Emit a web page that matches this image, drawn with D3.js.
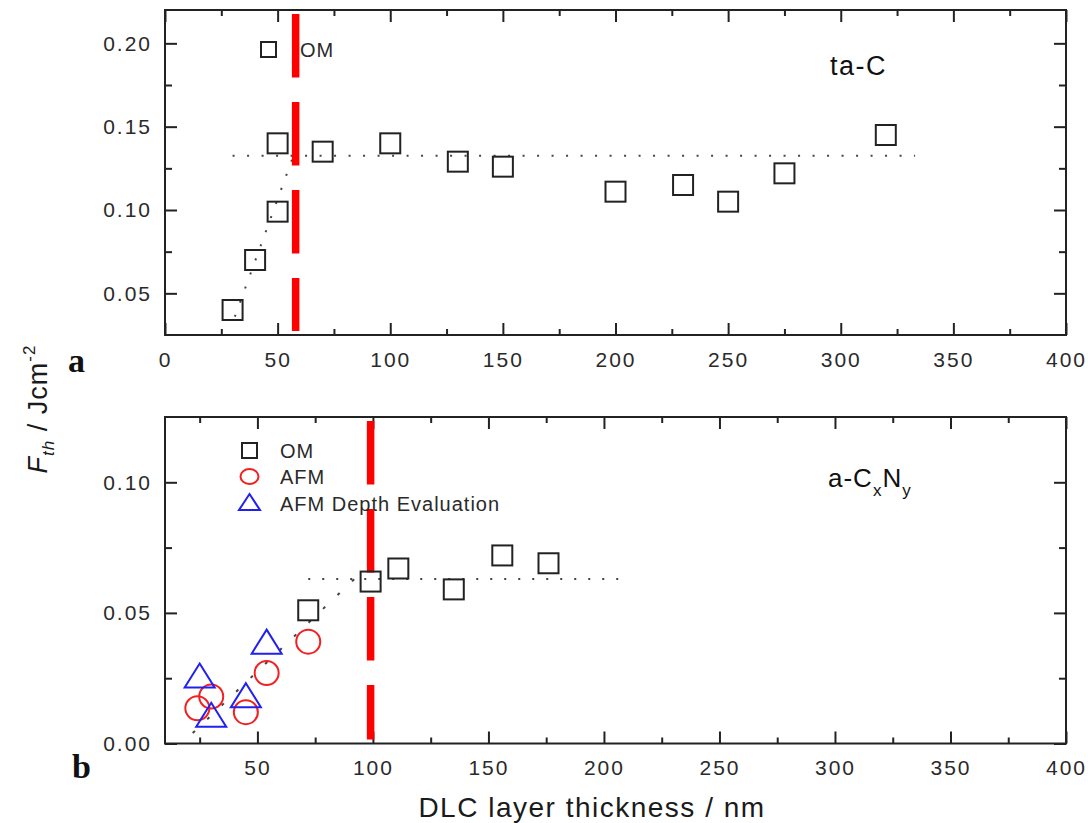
<!DOCTYPE html>
<html>
<head>
<meta charset="utf-8">
<script src="https://cdn.jsdelivr.net/npm/d3@7"></script>
<style>
  html, body { margin: 0; padding: 0; background: #fff; }
  svg { display: block; font-family: "Liberation Sans", Arial, sans-serif; }
</style>
</head>
<body>
<svg id="chart" width="1088" height="823"></svg>
<script>
// ---- Panel a: ta-C (optical microscopy) ----
const taC_thickness = [30, 40, 50, 50, 70, 100, 130, 150, 200, 230, 250, 275, 320];
const taC_fth       = [0.040, 0.070, 0.099, 0.140, 0.135, 0.140, 0.129, 0.126, 0.111, 0.115, 0.105, 0.122, 0.145];
const taC_plateau   = 0.1325;           // horizontal guide level
const taC_plateauX  = [30, 333];         // extent of the horizontal guide
const taC_rise      = [[31, 0.036], [57, 0.1325]];  // rising guide
const taC_critical  = 58;                // red dashed marker (nm)

// ---- Panel b: a-CxNy ----
const cn_om_thickness  = [72, 99, 111, 135, 156, 176];
const cn_om_fth        = [0.051, 0.062, 0.067, 0.059, 0.072, 0.069];
const cn_afm_thickness = [24, 30, 45, 54, 72];
const cn_afm_fth       = [0.0135, 0.018, 0.012, 0.027, 0.039];
const cn_dep_thickness = [25, 30, 45, 54];
const cn_dep_fth       = [0.026, 0.011, 0.0185, 0.039];
const cn_plateau   = 0.063;
const cn_plateauX  = [72, 210];
const cn_rise      = [[22, 0.004], [92, 0.063]];
const cn_critical  = 99;

// ---- Axis ticks ----
const xTicksA = [0, 50, 100, 150, 200, 250, 300, 350, 400];
const xTicksB = [50, 100, 150, 200, 250, 300, 350, 400];
const xMinor  = [25, 75, 125, 175, 225, 275, 325, 375];
const yTicksA = [0.05, 0.10, 0.15, 0.20];
const yMinorA = [0.075, 0.125, 0.175];
const yTicksB = [0.00, 0.05, 0.10];
const yMinorB = [0.025, 0.075];

const svg = d3.select("#chart");
const INK = "#222";
const TXT = "#2a2a2a";
const RED = "#ff0000";
const CRED = "#f22020";
const BLUE = "#2020f0";

const left = 165, right = 1066;

const xA = d3.scaleLinear().domain([0, 400]).range([left, right]);
const yA = d3.scaleLinear().domain([0.025, 0.22]).range([335, 10]);
const xB = d3.scaleLinear().domain([10, 400]).range([left, right]);
const yB = d3.scaleLinear().domain([0, 0.125]).range([743.5, 417]);

function drawAxes(x, y, xt, xm, yt, ym, fmtX) {
  const g = svg.append("g");
  const [y0, y1] = y.range();
  const [x0, x1] = x.range();
  const style = sel => {
    sel.select(".domain").remove();
    sel.selectAll("line").attr("stroke", INK).attr("stroke-width", 2);
    sel.selectAll("text").attr("fill", TXT).attr("font-size", 21).attr("letter-spacing", 2)
      .attr("font-family", "'Liberation Sans', Arial, sans-serif");
  };
  // bottom
  g.append("g").attr("transform", `translate(0,${y0})`)
    .call(d3.axisBottom(x).tickValues(xt).tickSizeInner(-12).tickSizeOuter(0).tickPadding(17).tickFormat(fmtX))
    .call(style);
  g.append("g").attr("transform", `translate(0,${y0})`)
    .call(d3.axisBottom(x).tickValues(xm).tickSizeInner(-6).tickSizeOuter(0).tickFormat(""))
    .call(style);
  // top
  g.append("g").attr("transform", `translate(0,${y1})`)
    .call(d3.axisTop(x).tickValues(xt).tickSizeInner(-12).tickSizeOuter(0).tickFormat(""))
    .call(style);
  g.append("g").attr("transform", `translate(0,${y1})`)
    .call(d3.axisTop(x).tickValues(xm).tickSizeInner(-6).tickSizeOuter(0).tickFormat(""))
    .call(style);
  // left
  g.append("g").attr("transform", `translate(${x0},0)`)
    .call(d3.axisLeft(y).tickValues(yt).tickSizeInner(-12).tickSizeOuter(0).tickPadding(13).tickFormat(d3.format(".2f")))
    .call(style);
  g.append("g").attr("transform", `translate(${x0},0)`)
    .call(d3.axisLeft(y).tickValues(ym).tickSizeInner(-7).tickSizeOuter(0).tickFormat(""))
    .call(style);
  // right
  g.append("g").attr("transform", `translate(${x1},0)`)
    .call(d3.axisRight(y).tickValues(yt).tickSizeInner(-12).tickSizeOuter(0).tickFormat(""))
    .call(style);
  g.append("g").attr("transform", `translate(${x1},0)`)
    .call(d3.axisRight(y).tickValues(ym).tickSizeInner(-7).tickSizeOuter(0).tickFormat(""))
    .call(style);
  // frame
  g.append("rect").attr("x", x0).attr("y", y1).attr("width", x1 - x0).attr("height", y0 - y1)
    .attr("fill", "none").attr("stroke", INK).attr("stroke-width", 2);
}

function guide(x, y, pts, dash) {
  svg.append("path")
    .attr("d", d3.line().x(d => x(d[0])).y(d => y(d[1]))(pts))
    .attr("fill", "none").attr("stroke", "#444").attr("stroke-width", 2)
    .attr("stroke-dasharray", dash);
}

function critical(x, y, v) {
  const [y0, y1] = y.range();
  svg.append("line")
    .attr("x1", x(v)).attr("x2", x(v)).attr("y1", y1 + 4).attr("y2", y0 - 4)
    .attr("stroke", RED).attr("stroke-width", 7.5).attr("stroke-dasharray", "63.5,24.5");
}

function squares(x, y, xs, ys, size) {
  svg.append("g").selectAll("rect").data(d3.zip(xs, ys)).join("rect")
    .attr("x", d => x(d[0]) - size / 2).attr("y", d => y(d[1]) - size / 2)
    .attr("width", size).attr("height", size)
    .attr("fill", "none").attr("stroke", INK).attr("stroke-width", 2);
}
function circles(x, y, xs, ys, r) {
  svg.append("g").selectAll("circle").data(d3.zip(xs, ys)).join("circle")
    .attr("cx", d => x(d[0])).attr("cy", d => y(d[1])).attr("r", r)
    .attr("fill", "none").attr("stroke", CRED).attr("stroke-width", 2);
}
function triPath(w, h) {
  return `M0,${-h / 2}L${w / 2},${h / 2}L${-w / 2},${h / 2}Z`;
}
function triangles(x, y, xs, ys, w, h) {
  svg.append("g").selectAll("path").data(d3.zip(xs, ys)).join("path")
    .attr("transform", d => `translate(${x(d[0])},${y(d[1])})`)
    .attr("d", triPath(w, h))
    .attr("fill", "none").attr("stroke", BLUE).attr("stroke-width", 2).attr("stroke-linejoin", "miter");
}

// ===== Panel a =====
drawAxes(xA, yA, xTicksA, xMinor, yTicksA, yMinorA, d3.format("d"));
guide(xA, yA, [[taC_plateauX[0], taC_plateau], [taC_plateauX[1], taC_plateau]], "2,12.5");
guide(xA, yA, taC_rise, "2,13");
critical(xA, yA, taC_critical);
squares(xA, yA, taC_thickness, taC_fth, 20);

// legend (panel a)
svg.append("rect").attr("x", 261).attr("y", 42).attr("width", 15).attr("height", 15)
  .attr("fill", "none").attr("stroke", INK).attr("stroke-width", 2);
svg.append("text").attr("x", 300).attr("y", 57).attr("font-size", 20).attr("letter-spacing", 1)
  .attr("fill", TXT).text("OM");

svg.append("text").attr("x", 830).attr("y", 75).attr("font-size", 27).attr("letter-spacing", 1.5)
  .attr("fill", "#111").text("ta-C");

svg.append("text").attr("x", 68).attr("y", 372).attr("font-size", 34).attr("font-weight", "bold")
  .attr("font-family", "'Liberation Serif', 'Times New Roman', serif").attr("fill", "#111").text("a");

// ===== Panel b =====
drawAxes(xB, yB, xTicksB, xMinor, yTicksB, yMinorB, d3.format("d"));
guide(xB, yB, [[cn_plateauX[0], cn_plateau], [cn_plateauX[1], cn_plateau]], "2,12");
guide(xB, yB, cn_rise, "3,17");
critical(xB, yB, cn_critical);
circles(xB, yB, cn_afm_thickness, cn_afm_fth, 12);
triangles(xB, yB, cn_dep_thickness, cn_dep_fth, 30, 24);
squares(xB, yB, cn_om_thickness, cn_om_fth, 20);

// legend (panel b)
const lg = svg.append("g");
lg.append("rect").attr("x", 242).attr("y", 443).attr("width", 15).attr("height", 15)
  .attr("fill", "none").attr("stroke", INK).attr("stroke-width", 2);
lg.append("ellipse").attr("cx", 249.5).attr("cy", 476.5).attr("rx", 9).attr("ry", 7.5)
  .attr("fill", "none").attr("stroke", CRED).attr("stroke-width", 2);
lg.append("path").attr("transform", "translate(249.5,502)").attr("d", triPath(21, 16))
  .attr("fill", "none").attr("stroke", BLUE).attr("stroke-width", 2);
const legendLabels = ["OM", "AFM", "AFM Depth Evaluation"];
lg.selectAll("text.lbl").data(legendLabels).join("text")
  .attr("x", 280).attr("y", (d, i) => 457.5 + i * 26.7)
  .attr("font-size", 20).attr("letter-spacing", 1).attr("fill", TXT).text(d => d);

const cxny = svg.append("text").attr("x", 828).attr("y", 487).attr("font-size", 26)
  .attr("letter-spacing", 1).attr("fill", "#111");
cxny.append("tspan").text("a-C");
cxny.append("tspan").attr("font-size", 17).attr("dy", 9).text("x");
cxny.append("tspan").attr("dy", -9).text("N");
cxny.append("tspan").attr("font-size", 17).attr("dy", 9).text("y");

svg.append("text").attr("x", 72).attr("y", 778).attr("font-size", 34).attr("font-weight", "bold")
  .attr("font-family", "'Liberation Serif', 'Times New Roman', serif").attr("fill", "#111").text("b");

// ===== Axis titles =====
svg.append("text").attr("x", 592).attr("y", 817).attr("text-anchor", "middle")
  .attr("font-size", 28).attr("letter-spacing", 1.5).attr("fill", "#1a1a1a")
  .text("DLC layer thickness / nm");

const yt = svg.append("text").attr("transform", "translate(47,409) rotate(-90)")
  .attr("text-anchor", "middle").attr("font-size", 27).attr("letter-spacing", 1).attr("fill", "#1a1a1a");
yt.append("tspan").attr("font-style", "italic").text("F");
yt.append("tspan").attr("font-style", "italic").attr("font-size", 17).attr("dy", 7).text("th");
yt.append("tspan").attr("dy", -7).text(" / Jcm");
yt.append("tspan").attr("font-size", 17).attr("dy", -12).text("-2");
</script>
</body>
</html>
